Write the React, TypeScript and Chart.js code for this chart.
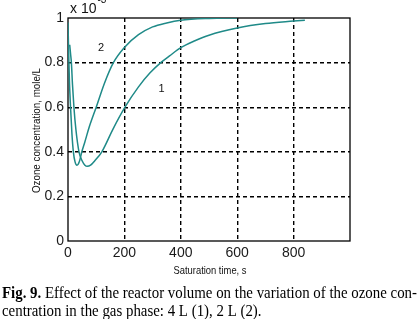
import React, { useEffect, useRef } from "react";
import { Chart, registerables } from "chart.js";

Chart.register(...registerables);

// Curve 1 (4 L reactor) — time, s / ozone concentration ×10^-3 mole/L
const curve1Time = [6, 9, 12, 16, 21, 28, 39, 50, 60, 68, 80, 95, 120, 160, 202, 250, 291, 330, 360, 400, 450, 500, 600, 700, 800, 840];
const curve1Conc = [0.88, 0.84, 0.8, 0.7, 0.6, 0.5, 0.4, 0.36, 0.34, 0.335, 0.34, 0.36, 0.4, 0.503, 0.6, 0.691, 0.754, 0.801, 0.83, 0.867, 0.898, 0.923, 0.955, 0.975, 0.986, 0.99];

// Curve 2 (2 L reactor)
const curve2Time = [0, 2, 5, 9, 14, 19, 25, 32, 40, 49, 60, 75, 100, 130, 161, 200, 250, 300, 350, 400, 500, 600];
const curve2Conc = [0.98, 0.86, 0.72, 0.6, 0.48, 0.4, 0.355, 0.34, 0.355, 0.4, 0.445, 0.51, 0.6, 0.71, 0.8, 0.868, 0.925, 0.96, 0.978, 0.99, 0.998, 1.0];

const xTickValues = [0, 200, 400, 600, 800];
const xMin = 0;
const xMax = 1000;
const yMin = 0;
const yMax = 1;
const yStep = 0.2;

const curveLabels = ["1", "2"];
const curveLabelPos = [
  { t: 332, c: 0.68 },
  { t: 117, c: 0.865 },
];

const xTitle = "Saturation time, s";
const yTitle = "Ozone concentration, mole/L";
const exponentBase = "x 10";
const exponentPower = "-3";
const captionBold = "Fig. 9.";
const captionLine1 = " Effect of the reactor volume on the variation of the ozone con-";
const captionLine2 = "centration in the gas phase: 4 L (1), 2 L (2).";

const CURVE_COLOR = "#1f8a88";
const SANS = '"Liberation Sans", Arial, sans-serif';
const SERIF = '"Liberation Serif", "Times New Roman", serif';

export default function App() {
  const ref = useRef<HTMLCanvasElement | null>(null);

  useEffect(() => {
    const canvas = ref.current;
    if (!canvas) return;

    const decor = {
      id: "decor",
      beforeDatasetsDraw(chart: any) {
        const { ctx, chartArea: a } = chart;
        ctx.save();
        ctx.strokeStyle = "#000";
        ctx.lineWidth = 1.3;
        ctx.setLineDash([]);
        ctx.strokeRect(a.left, a.top, a.right - a.left, a.bottom - a.top);
        ctx.restore();
      },
      afterDraw(chart: any) {
        const { ctx, chartArea: a, scales } = chart;
        const xs = scales.x;
        const ys = scales.y;
        ctx.save();
        ctx.fillStyle = "#111";

        // exponent
        ctx.font = `14px ${SANS}`;
        ctx.textAlign = "left";
        ctx.textBaseline = "alphabetic";
        ctx.fillText(exponentBase, a.left + 2, 13);
        const bw = ctx.measureText(exponentBase).width;
        ctx.font = `10px ${SANS}`;
        ctx.fillText(exponentPower, a.left + 2 + bw + 1, 3);

        // curve labels
        ctx.font = `11px ${SANS}`;
        ctx.textAlign = "center";
        ctx.textBaseline = "middle";
        curveLabels.forEach((lab, i) => {
          const p = curveLabelPos[i];
          ctx.fillText(lab, xs.getPixelForValue(p.t), ys.getPixelForValue(p.c));
        });

        // x title
        ctx.font = `11px ${SANS}`;
        let w = ctx.measureText(xTitle).width;
        let k = 73 / w;
        ctx.save();
        ctx.translate(210, 271);
        ctx.scale(k, 1);
        ctx.fillText(xTitle, 0, 0);
        ctx.restore();

        // y title
        w = ctx.measureText(yTitle).width;
        k = 125 / w;
        ctx.save();
        ctx.translate(36.5, 130.5);
        ctx.rotate(-Math.PI / 2);
        ctx.scale(k, 1);
        ctx.fillText(yTitle, 0, 0);
        ctx.restore();

        // caption
        ctx.textAlign = "left";
        ctx.textBaseline = "alphabetic";
        ctx.fillStyle = "#000";
        ctx.font = `bold 16px ${SERIF}`;
        const wb = ctx.measureText(captionBold).width;
        ctx.font = `16px ${SERIF}`;
        const w1 = ctx.measureText(captionLine1).width;
        const kc = 415 / (wb + w1);
        ctx.save();
        ctx.translate(2, 298);
        ctx.scale(kc, 1);
        ctx.font = `bold 16px ${SERIF}`;
        ctx.fillText(captionBold, 0, 0);
        ctx.font = `16px ${SERIF}`;
        ctx.fillText(captionLine1, wb, 0);
        ctx.restore();
        ctx.save();
        ctx.translate(2, 315.5);
        ctx.scale(kc, 1);
        ctx.fillText(captionLine2, 0, 0);
        ctx.restore();

        ctx.restore();
      },
    };

    const gridColor = (c: any) => {
      const v = c.tick ? c.tick.value : 0;
      return v <= 0 || v >= 1000 || Math.abs(v - 1) < 1e-9 ? "rgba(0,0,0,0)" : "#000";
    };

    const chart = new Chart(canvas, {
      type: "line",
      data: {
        datasets: [
          {
            label: "4 L",
            data: curve1Time.map((t, i) => ({ x: t, y: curve1Conc[i] })),
            borderColor: CURVE_COLOR,
            borderWidth: 1.5,
            pointRadius: 0,
            cubicInterpolationMode: "monotone",
            fill: false,
          },
          {
            label: "2 L",
            data: curve2Time.map((t, i) => ({ x: t, y: curve2Conc[i] })),
            borderColor: CURVE_COLOR,
            borderWidth: 1.5,
            pointRadius: 0,
            cubicInterpolationMode: "monotone",
            fill: false,
          },
        ],
      },
      options: {
        responsive: false,
        animation: false,
        events: [],
        layout: { padding: { left: 0, right: 69, top: 18, bottom: 48 } },
        plugins: { legend: { display: false }, tooltip: { enabled: false }, title: { display: false } },
        scales: {
          x: {
            type: "linear",
            min: xMin,
            max: xMax,
            afterBuildTicks: (s: any) => {
              s.ticks = xTickValues.map((v) => ({ value: v }));
            },
            afterFit: (s: any) => {
              s.height = 30;
            },
            grid: { color: gridColor, lineWidth: 1.4, drawTicks: false },
            border: { display: false, dash: [4, 3] },
            ticks: {
              padding: 4,
              maxRotation: 0,
              color: "#1a1a1a",
              font: { family: SANS, size: 14 },
            },
          },
          y: {
            type: "linear",
            min: yMin,
            max: yMax,
            afterFit: (s: any) => {
              s.width = 68;
            },
            grid: { color: gridColor, lineWidth: 1.4, drawTicks: false },
            border: { display: false, dash: [4, 3] },
            ticks: {
              stepSize: yStep,
              padding: 4,
              color: "#1a1a1a",
              font: { family: SANS, size: 14 },
              callback: (v: any) => String(Number(Number(v).toFixed(1))),
            },
          },
        },
      },
      plugins: [decor],
    } as any);

    return () => chart.destroy();
  }, []);

  return (
    <div style={{ position: "absolute", left: 0, top: 0, width: 419, height: 319, background: "#fff" }}>
      <canvas ref={ref} width={419} height={319} style={{ display: "block", width: 419, height: 319 }} />
    </div>
  );
}
